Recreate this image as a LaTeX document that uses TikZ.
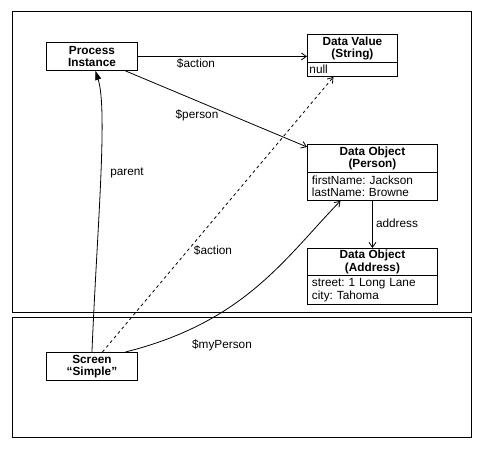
\documentclass[tikz,border=0pt]{standalone}
\usepackage{fontspec}
\setmainfont{Liberation Sans}
\usetikzlibrary{arrows.meta}
\frenchspacing
\begin{document}
\begin{tikzpicture}[x=1pt,y=-1pt,
  every node/.style={font=\fontsize{11.8}{12.5}\selectfont},
  hdr/.style={draw, line width=0.9pt, inner sep=0pt, anchor=north west, align=center, font=\fontsize{11.8}{12.3}\selectfont\bfseries},
  bodybox/.style={draw, line width=0.9pt, inner ysep=0pt, inner xsep=4.5pt, anchor=north west, align=left},
  lbl/.style={inner sep=0pt},
  conn/.style={line width=0.8pt},
  openarr/.style={-{Straight Barb[length=5pt,width=7pt]}},
  blockarr/.style={-{Triangle[length=9pt,width=6pt]}},
  frame/.style={line width=0.9pt}
]
\useasboundingbox (0,0) rectangle (483,449);
\fill[white] (0,0) rectangle (483,449);
% swimlanes
\draw[frame] (12,11) rectangle (471,312.5);
\draw[frame] (12,317.5) rectangle (471,437);

% nodes
\node[hdr, minimum width=91pt, minimum height=28pt] (pi) at (46,42) {Process\\Instance};
\node[hdr, minimum width=91pt, minimum height=28pt] (scr) at (46,352) {Screen\\“Simple”};

\node[hdr, minimum width=90pt, minimum height=28pt] (dvH) at (307,34) {Data Value\\(String)};
\node[bodybox, text width=86pt, minimum height=14pt, inner xsep=2pt] (dvB) at (307,62) {null};

\node[hdr, minimum width=130pt, minimum height=28pt] (psH) at (307,144) {Data Object\\(Person)};
\node[bodybox, text width=121pt, minimum height=28pt] (psB) at (307,172) {firstName: Jackson\\lastName: Browne};

\node[hdr, minimum width=130pt, minimum height=27pt] (adH) at (307,248) {Data Object\\(Address)};
\node[bodybox, text width=121pt, minimum height=29pt] (adB) at (307,275) {street: 1 Long Lane\\city: Tahoma};

% connectors
\draw[conn, openarr] (pi.east) -- (pi.east -| dvH.west);
\draw[conn, openarr] ([xshift=33.5pt]pi.south) -- ([yshift=-3pt]psH.north west);
\draw[conn, blockarr] (scr.north) .. controls (97,230) and (108,110) .. ([xshift=3.5pt]pi.south);
\draw[conn, openarr, dash pattern=on 3pt off 3pt] ([xshift=10.5pt]scr.north) -- ([xshift=-19pt]dvB.south);
\draw[conn, openarr] ([xshift=33.5pt]scr.north) .. controls (245,322) and (285,258) .. ([xshift=-32pt]psB.south);
\draw[conn, openarr] (psB.south) -- (adH.north);

% labels
\node[lbl] (l1) at (196,64) {\$action};
\node[lbl] (l2) at (197,115) {\$person};
\node[lbl] (l3) at (127,173) {parent};
\node[lbl] (l4) at (213,251) {\$action};
\node[lbl] (l5) at (222,345) {\$myPerson};
\node[lbl] (l6) at (397,223) {address};
\end{tikzpicture}
\end{document}
